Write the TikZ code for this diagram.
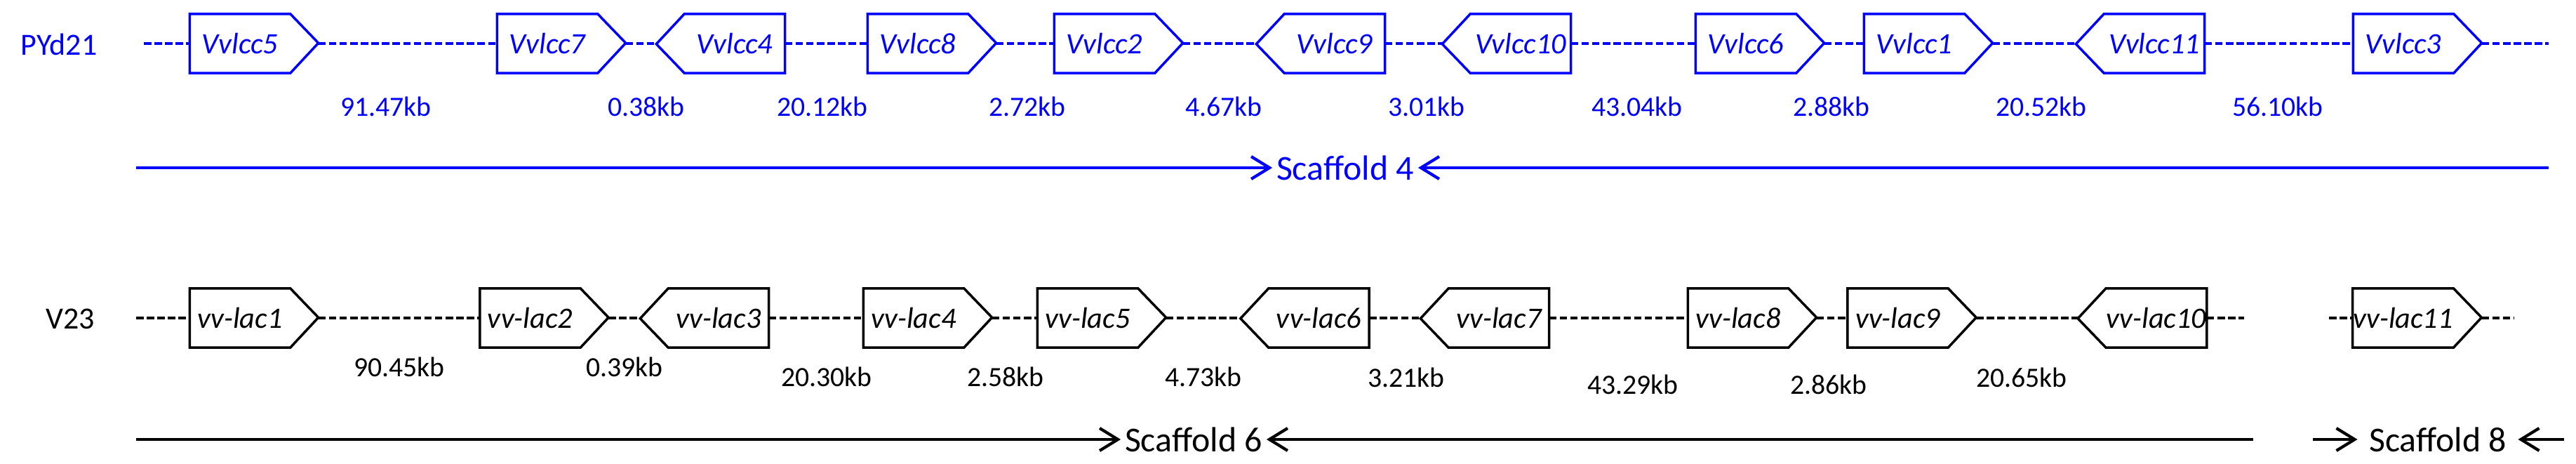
\documentclass[tikz,border=0pt]{standalone}
\usepackage{fontspec}
\setmainfont{Carlito}
\usepackage{tikz}
\usetikzlibrary{arrows.meta}
\definecolor{pyd}{RGB}{0,0,255}
\tikzset{
  gene/.style={minimum width=1.42cm, minimum height=0.83cm, inner sep=0pt,
              font=\fontsize{12}{14}\selectfont\itshape},
  genebox/.style={line width=1pt, line join=miter},
  link/.style={dash pattern=on 3pt off 1.3pt, line width=1.1pt},
  kblabel/.style={font=\fontsize{11.3}{13}\selectfont, inner sep=0pt},
  strain/.style={font=\fontsize{12.5}{15}\selectfont, inner sep=0pt},
  scaf/.style={font=\fontsize{14.2}{17}\selectfont, inner ysep=0pt, inner xsep=1.5pt},
  scafarrow/.style={-{Straight Barb[length=2.6mm,width=3.2mm]}, line width=1.2pt},
}
\begin{document}
\begin{tikzpicture}
  \useasboundingbox (0,0) rectangle (36.71,-6.61);
  % PYd21 -- scaffold 4
  \begin{scope}[pyd]
    \node[strain] (pyd) at (0.84,-0.63) {PYd21};
    % \p = pointer to the right, \q = pointer to the left
    \foreach \n/\x/\p/\q in {5/3.42/0.4/0,7/7.80/0.4/0,4/10.47/0/-0.4,8/13.08/0.4/0,2/15.74/0.4/0,9/19.02/0/-0.4,10/21.67/0/-0.4,6/24.88/0.4/0,1/27.28/0.4/0,11/30.70/0/-0.4,3/34.25/0.4/0} {
      \node[gene] (lcc\n) at (\x,-0.62) {Vvlcc\n};
      \draw[genebox] (lcc\n.north west) -- (lcc\n.north east) -- ++(\p,-0.415) -- (lcc\n.south east) -- (lcc\n.south west) -- ++(\q,0.415) -- cycle;
      \coordinate (lcc\n-l) at ([xshift=\q cm]lcc\n.west);
      \coordinate (lcc\n-r) at ([xshift=\p cm]lcc\n.east);
    }
    \coordinate (a0) at (2.05,-0.62);
    \coordinate (a1) at (36.32,-0.62);
    \draw[link] (a0) -- (lcc5-l);
    \foreach \a/\b in {5/7,7/4,4/8,8/2,2/9,9/10,10/6,6/1,1/11,11/3}
      \draw[link] (lcc\a-r) -- (lcc\b-l);
    \draw[link] (lcc3-r) -- (a1);
    \foreach \t/\x [count=\i] in {91.47/5.50,0.38/9.21,20.12/11.72,2.72/14.64,4.67/17.44,3.01/20.33,43.04/23.33,2.88/26.10,20.52/29.09,56.10/32.46}
      \node[kblabel] (pk\i) at (\x,-1.52) {\t kb};
    \node[scaf] (sc4) at (19.17,-2.39) {Scaffold 4};
    \coordinate (s4a) at (1.94,-2.39);
    \coordinate (s4b) at (36.32,-2.39);
    \draw[scafarrow] (s4a) -- (sc4.west);
    \draw[scafarrow] (s4b) -- (sc4.east);
  \end{scope}
  % V23 -- scaffolds 6 and 8
  \node[strain] (v23) at (1.00,-4.54) {V23};
  \foreach \n/\x/\p/\q in {1/3.42/0.4/0,2/7.555/0.4/0,3/10.24/0/-0.4,4/13.02/0.4/0,5/15.50/0.4/0,6/18.795/0/-0.4,7/21.36/0/-0.4,8/24.77/0.4/0,9/27.045/0.4/0,10/30.73/0/-0.4,11/34.245/0.4/0} {
    \node[gene] (lac\n) at (\x,-4.53) {vv-lac\n};
    \draw[genebox] (lac\n.north west) -- (lac\n.north east) -- ++(\p,-0.415) -- (lac\n.south east) -- (lac\n.south west) -- ++(\q,0.415) -- cycle;
    \coordinate (lac\n-l) at ([xshift=\q cm]lac\n.west);
    \coordinate (lac\n-r) at ([xshift=\p cm]lac\n.east);
  }
  \coordinate (b0) at (1.94,-4.53);
  \coordinate (b1) at (31.98,-4.53);
  \coordinate (b2) at (33.19,-4.53);
  \coordinate (b3) at (35.82,-4.53);
  \draw[link] (b0) -- (lac1-l);
  \foreach \a/\b in {1/2,2/3,3/4,4/5,5/6,6/7,7/8,8/9,9/10}
    \draw[link] (lac\a-r) -- (lac\b-l);
  \draw[link] (lac10-r) -- (b1);
  \draw[link] (b2) -- (lac11-l);
  \draw[link] (lac11-r) -- (b3);
  \foreach \t/\x/\y [count=\i] in {90.45/5.69/-5.23,0.39/8.90/-5.23,20.30/11.78/-5.37,2.58/14.33/-5.37,4.73/17.15/-5.37,3.21/20.04/-5.38,43.29/23.27/-5.48,2.86/26.06/-5.48,20.65/28.81/-5.38}
    \node[kblabel] (vk\i) at (\x,\y) {\t kb};
  \node[scaf] (sc6) at (17.01,-6.26) {Scaffold 6};
  \coordinate (s6a) at (1.94,-6.26);
  \coordinate (s6b) at (32.11,-6.26);
  \draw[scafarrow] (s6a) -- (sc6.west);
  \draw[scafarrow] (s6b) -- (sc6.east);
  \node[scaf, inner xsep=4.5pt] (sc8) at (34.74,-6.26) {Scaffold 8};
  \coordinate (s8a) at (32.96,-6.26);
  \coordinate (s8b) at (36.54,-6.26);
  \draw[scafarrow] (s8a) -- (sc8.west);
  \draw[scafarrow] (s8b) -- (sc8.east);
\end{tikzpicture}
\end{document}
